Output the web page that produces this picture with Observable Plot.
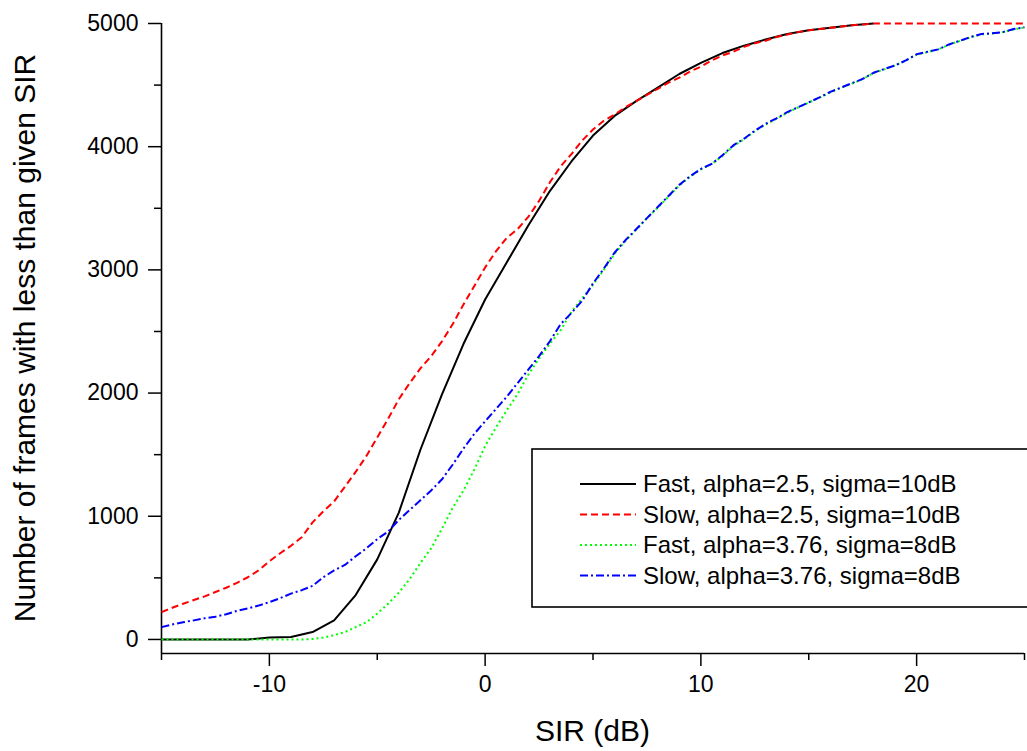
<!DOCTYPE html>
<html><head><meta charset="utf-8">
<script src="https://cdn.jsdelivr.net/npm/d3@7"></script>
<script src="https://cdn.jsdelivr.net/npm/@observablehq/plot@0.6"></script>
<style>body{margin:0;background:#fff}</style>
</head><body><div id="chart"></div>
<script>
// SIR (dB) sample points
const sirFast25 = [-15,-14,-13,-12,-11,-10,-9,-8,-7,-6,-5,-4,-3,-2,-1,0,1,2,3,4,5,6,7,8,9,10,11,12,13,14,15,16,17,18];
const fast25 = [0,0,0,0,0,15,20,60,155,360,650,1030,1540,1990,2400,2760,3060,3360,3640,3880,4090,4250,4370,4480,4590,4680,4760,4820,4870,4915,4945,4965,4985,5000];

const sirHalf = [-15,-14.5,-14,-13.5,-13,-12.5,-12,-11.5,-11,-10.5,-10,-9.5,-9,-8.5,-8,-7.5,-7,-6.5,-6,-5.5,-5,-4.5,-4,-3.5,-3,-2.5,-2,-1.5,-1,-0.5,0,0.5,1,1.5,2,2.5,3,3.5,4,4.5,5,5.5,6,6.5,7,7.5,8,8.5,9,9.5,10,10.5,11,11.5,12,12.5,13,13.5,14,14.5,15,15.5,16,16.5,17,17.5,18,18.5,19,19.5,20,20.5,21,21.5,22,22.5,23,23.5,24,24.5,25];

const slow25 = [222,257,290,320,350,385,420,460,505,560,635,700,760,830,950,1040,1120,1240,1360,1490,1640,1790,1950,2080,2200,2300,2420,2560,2720,2870,3020,3150,3260,3330,3430,3560,3710,3840,3940,4050,4140,4210,4260,4320,4370,4420,4470,4520,4560,4610,4650,4700,4740,4770,4810,4840,4860,4890,4910,4930,4945,4955,4965,4975,4985,4992,5000,5000,5000,5000,5000,5000,5000,5000,5000,5000,5000,5000,5000,5000,5000];

const fast376 = [0,0,0,0,0,0,0,0,0,0,0,0,0,0,3,15,35,60,100,140,210,290,380,490,620,740,900,1070,1210,1380,1570,1720,1860,1990,2150,2280,2400,2510,2660,2770,2880,3000,3130,3235,3325,3420,3505,3595,3685,3755,3815,3860,3925,4005,4060,4125,4180,4225,4275,4318,4358,4398,4440,4478,4512,4548,4598,4628,4660,4698,4748,4768,4790,4828,4858,4888,4912,4918,4930,4952,4968];

const slow376 = [100,122,140,155,172,185,205,232,252,275,303,335,372,400,435,505,560,605,675,740,815,875,970,1050,1130,1210,1300,1420,1550,1670,1770,1870,1970,2080,2190,2300,2420,2560,2650,2750,2890,3010,3140,3240,3330,3420,3510,3600,3690,3760,3820,3860,3930,4010,4065,4130,4185,4230,4280,4320,4360,4400,4445,4480,4515,4550,4600,4630,4660,4700,4750,4770,4790,4830,4860,4890,4915,4920,4930,4955,4970];

const seriesNames = ["Fast, alpha=2.5, sigma=10dB","Slow, alpha=2.5, sigma=10dB","Fast, alpha=3.76, sigma=8dB","Slow, alpha=3.76, sigma=8dB"];
const seriesColors = ["#000000","#ff0000","#00ff00","#0000ff"];
const seriesDash = [null,"7,4","2,3","8,3,2,3"];

const xMajor = [-10,0,10,20];
const xMinor = [-15,-5,5,15,25];
const yMajor = [0,1000,2000,3000,4000,5000];
const yMinor = [500,1500,2500,3500,4500];

const rows = (xs, ys) => xs.map((x,i)=>({x, y: ys[i]}));
const seriesData = [rows(sirFast25, fast25), rows(sirHalf, slow25), rows(sirHalf, fast376), rows(sirHalf, slow376)];

const FONT = "'Liberation Sans', Arial, sans-serif";
const yMin = -114;

const plot = Plot.plot({
  width: 1027, height: 751,
  marginTop: 23, marginBottom: 98, marginLeft: 161, marginRight: 3,
  style: {fontFamily: FONT, fontSize: "23px", background: "#fff", color: "#000", overflow: "visible"},
  x: {domain: [-15, 25]},
  y: {domain: [yMin, 5000]},
  marks: [
    Plot.axisX({ticks: xMajor, tickSize: 13, tickPadding: 9, tickFormat: d => String(d), label: null, strokeWidth: 1.5, fontSize: 23}),
    Plot.axisX({ticks: xMinor, tickSize: 7, tickFormat: () => "", label: null, strokeWidth: 1.5}),
    Plot.axisY({ticks: yMajor, tickSize: 13, tickPadding: 10, tickFormat: d => String(d), label: null, strokeWidth: 1.5, fontSize: 23}),
    Plot.axisY({ticks: yMinor, tickSize: 7, tickFormat: () => "", label: null, strokeWidth: 1.5}),
    Plot.ruleX([-15], {strokeWidth: 1.6}),
    Plot.ruleY([yMin], {strokeWidth: 1.6}),
    ...seriesData.map((d, i) => Plot.line(d, {x: "x", y: "y", stroke: seriesColors[i], strokeWidth: 2, strokeDasharray: seriesDash[i], strokeLinecap: "butt"}))
  ]
});

const svg = d3.select(plot);
// axis titles
svg.append("text").attr("x", 592.5).attr("y", 741).attr("text-anchor", "middle")
  .attr("font-family", FONT).attr("font-size", 30).attr("fill", "#000").text("SIR (dB)");
svg.append("text").attr("transform", "translate(35,338) rotate(-90)").attr("text-anchor", "middle")
  .attr("font-family", FONT).attr("font-size", 30).attr("fill", "#000").text("Number of frames with less than given SIR");

// legend
const lg = svg.append("g").attr("text-anchor", "start");
lg.append("rect").attr("x", 532).attr("y", 449).attr("width", 520).attr("height", 158)
  .attr("fill", "#fff").attr("stroke", "#000").attr("stroke-width", 1.6);
seriesNames.forEach((name, i) => {
  const cy = 484 + i * 30.5;
  lg.append("line").attr("x1", 580).attr("x2", 636).attr("y1", cy).attr("y2", cy)
    .attr("stroke", seriesColors[i]).attr("stroke-width", 1.8)
    .attr("stroke-dasharray", seriesDash[i]);
  lg.append("text").attr("x", 643).attr("y", cy).attr("dy", "0.35em").attr("text-anchor", "start")
    .attr("font-family", FONT).attr("font-size", 24).attr("fill", "#000").text(name);
});

document.getElementById("chart").appendChild(plot);
</script>
</body></html>
